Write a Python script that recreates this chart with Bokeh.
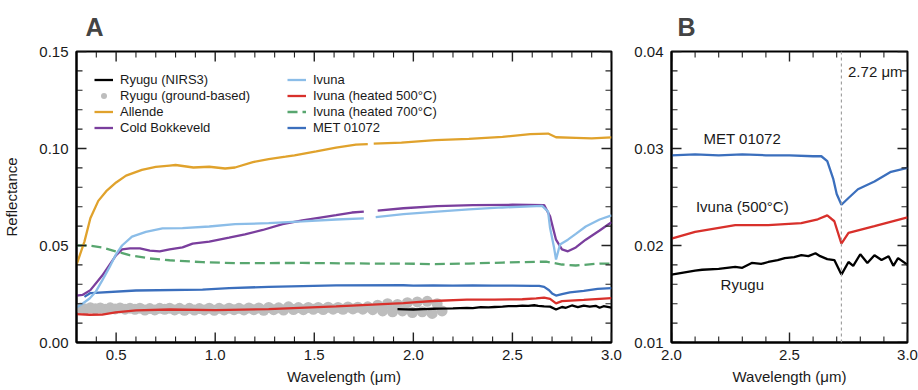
import math
from bokeh.plotting import figure
from bokeh.models import (Range1d, Legend, LegendItem, Span, NumeralTickFormatter, FixedTicker,
                          ColumnDataSource)
from bokeh.layouts import row
from bokeh.embed import file_html
from bokeh.resources import INLINE
from bokeh.core.properties import value

nan = float("nan")

# ---------------- data ----------------
ryugu_w = [1.92, 1.96, 2.00, 2.05, 2.10, 2.13, 2.20, 2.27, 2.30, 2.34, 2.38, 2.41, 2.45, 2.48,
           2.52, 2.55, 2.58, 2.61, 2.63, 2.66, 2.69, 2.72, 2.75, 2.77, 2.80, 2.83, 2.86, 2.89,
           2.92, 2.94, 2.96, 3.00]
ryugu_r = [0.0172, 0.0171, 0.0170, 0.0172, 0.0174, 0.0175, 0.0176, 0.0178, 0.0177, 0.0182,
           0.0181, 0.0183, 0.0185, 0.0187, 0.0188, 0.0190, 0.0189, 0.0192, 0.0189, 0.0186,
           0.0185, 0.0170, 0.0183, 0.0179, 0.0191, 0.0182, 0.0190, 0.0185, 0.0189, 0.0179,
           0.0187, 0.0180]

ground_w = [0.32, 0.345, 0.37, 0.395, 0.42, 0.445, 0.47, 0.495, 0.52, 0.545, 0.57, 0.595,
            0.62, 0.645, 0.67, 0.695, 0.72, 0.745, 0.77, 0.795, 0.82, 0.845, 0.87, 0.895,
            0.92, 0.945, 0.97, 0.995, 1.02, 1.045, 1.07, 1.095, 1.12, 1.145, 1.17, 1.195,
            1.22, 1.245, 1.27, 1.295, 1.32, 1.345, 1.37, 1.395, 1.42, 1.445, 1.47, 1.495,
            1.52, 1.545, 1.57, 1.595, 1.62, 1.645, 1.67, 1.695, 1.72, 1.745, 1.77, 1.795,
            1.82, 1.845, 1.87, 1.895, 1.92, 1.945, 1.97, 1.995, 2.02, 2.045, 2.07, 2.095,
            2.12, 2.145]
ground_r = [0.0178, 0.0173, 0.0179, 0.0174, 0.0178, 0.0172, 0.0179, 0.0173, 0.0178, 0.0172,
            0.0177, 0.0171, 0.0177, 0.0167, 0.0175, 0.0168, 0.0176, 0.0171, 0.0177, 0.0168,
            0.0176, 0.0166, 0.0176, 0.0167, 0.0175, 0.0168, 0.0177, 0.0166, 0.0176, 0.0168,
            0.0177, 0.0169, 0.0176, 0.0168, 0.0178, 0.0169, 0.0178, 0.0166, 0.0181, 0.0169,
            0.0179, 0.0167, 0.0184, 0.0170, 0.0180, 0.0169, 0.0181, 0.0171, 0.0181, 0.0170,
            0.0182, 0.0172, 0.0181, 0.0171, 0.0183, 0.0173, 0.0182, 0.0172, 0.0184, 0.0169,
            0.0192, 0.0163, 0.0200, 0.0158, 0.0196, 0.0163, 0.0205, 0.0154, 0.0209, 0.0158,
            0.0212, 0.0150, 0.0200, 0.0163]

allende_w = [0.30, 0.34, 0.37, 0.41, 0.45, 0.50, 0.55, 0.63, 0.70, 0.77, 0.80, 0.89, 0.97,
             1.05, 1.10, 1.19, 1.27, 1.355, 1.40, 1.51, 1.61, 1.71, 1.77, 1.785, 1.80, 1.94,
             2.11, 2.28, 2.45, 2.59, 2.68, 2.72, 2.82, 2.90, 3.00]
allende_r = [0.040, 0.052, 0.064, 0.073, 0.078, 0.0825, 0.086, 0.089, 0.0905, 0.0912, 0.0915,
             0.0902, 0.0906, 0.0897, 0.0902, 0.093, 0.0945, 0.0958, 0.0965, 0.0985, 0.1005,
             0.102, 0.1023, nan, 0.1025, 0.103, 0.1043, 0.105, 0.106, 0.1074, 0.1077, 0.1058,
             0.1055, 0.1052, 0.1057]

cb_w = [0.30, 0.33, 0.37, 0.43, 0.50, 0.53, 0.57, 0.62, 0.67, 0.72, 0.77, 0.835, 0.886, 0.97,
        1.07, 1.15, 1.24, 1.34, 1.44, 1.53, 1.61, 1.69, 1.75, 1.785, 1.82, 1.95, 2.12, 2.30,
        2.50, 2.66, 2.69, 2.72, 2.75, 2.78, 2.82, 2.87, 2.94, 3.00]
cb_r = [0.0242, 0.0245, 0.027, 0.0345, 0.045, 0.048, 0.0485, 0.0485, 0.0474, 0.047, 0.048,
        0.049, 0.051, 0.052, 0.054, 0.0557, 0.058, 0.061, 0.063, 0.0644, 0.0656, 0.067, 0.0675,
        nan, 0.068, 0.0692, 0.0703, 0.0708, 0.071, 0.0708, 0.065, 0.053, 0.048, 0.047, 0.049,
        0.053, 0.0577, 0.062]

ivuna_w = [0.30, 0.33, 0.366, 0.396, 0.43, 0.466, 0.497, 0.53, 0.58, 0.65, 0.734, 0.835, 0.97,
           1.10, 1.27, 1.44, 1.61, 1.75, 1.78, 1.81, 1.95, 2.12, 2.28, 2.45, 2.65, 2.68, 2.69,
           2.71, 2.72, 2.74, 2.78, 2.82, 2.87, 2.94, 3.00]
ivuna_r = [0.018, 0.020, 0.0227, 0.026, 0.032, 0.0387, 0.045, 0.050, 0.0546, 0.057, 0.0588,
           0.059, 0.0598, 0.061, 0.0615, 0.0624, 0.0634, 0.064, nan, 0.0646, 0.0662, 0.0675,
           0.0686, 0.0696, 0.0704, 0.0675, 0.059, 0.049, 0.0428, 0.0505, 0.053, 0.056, 0.0598,
           0.0634, 0.0655]

iv500_w = [0.30, 0.366, 0.43, 0.497, 0.60, 0.77, 1.00, 1.27, 1.61, 1.95, 2.00, 2.10, 2.27, 2.41,
           2.55, 2.62, 2.66, 2.69, 2.72, 2.75, 2.86, 3.00]
iv500_r = [0.0146, 0.0143, 0.0144, 0.0155, 0.0166, 0.0170, 0.0167, 0.0172, 0.0186, 0.0203,
           0.0207, 0.0214, 0.0221, 0.0221, 0.0223, 0.0227, 0.0231, 0.0225, 0.0202, 0.0213,
           0.0220, 0.0229]

iv700_w = [0.30, 0.366, 0.43, 0.497, 0.568, 0.67, 0.77, 0.936, 1.10, 1.44, 1.78, 1.95, 2.11,
           2.28, 2.45, 2.67, 2.75, 2.82, 2.94, 3.00]
iv700_r = [0.050, 0.050, 0.049, 0.047, 0.045, 0.0433, 0.0424, 0.0414, 0.0409, 0.041, 0.0407,
           0.0407, 0.0404, 0.0407, 0.0412, 0.0417, 0.0402, 0.0397, 0.0407, 0.0407]

met_w = [0.34, 0.37, 0.60, 0.936, 1.07, 1.27, 1.61, 1.95, 2.00, 2.10, 2.20, 2.30, 2.40, 2.50,
         2.60, 2.635, 2.66, 2.685, 2.70, 2.72, 2.75, 2.79, 2.86, 2.93, 3.00]
met_r = [0.0235, 0.0255, 0.0268, 0.0273, 0.028, 0.0287, 0.0294, 0.0295, 0.0293, 0.0294,
         0.0293, 0.0294, 0.0293, 0.0293, 0.0292, 0.0292, 0.0287, 0.0269, 0.0253, 0.0242,
         0.0249, 0.0258, 0.0266, 0.0276, 0.0280]

panel_b_labels = ["MET 01072", "Ivuna (500°C)", "Ryugu"]
panel_b_label_x = [2.30, 2.30, 2.30]
panel_b_label_y = [0.0310, 0.0240, 0.0160]
band_center = 2.72

# tick positions
a_x_major = [0.5, 1.0, 1.5, 2.0, 2.5, 3.0]
a_x_minor = [0.4, 0.6, 0.7, 0.8, 0.9, 1.1, 1.2, 1.3, 1.4, 1.6, 1.7, 1.8, 1.9,
             2.1, 2.2, 2.3, 2.4, 2.6, 2.7, 2.8, 2.9]
a_y_major = [0.0, 0.05, 0.10, 0.15]
a_y_minor = [0.01, 0.02, 0.03, 0.04, 0.06, 0.07, 0.08, 0.09, 0.11, 0.12, 0.13, 0.14]
b_x_major = [2.0, 2.5, 3.0]
b_x_minor = [2.1, 2.2, 2.3, 2.4, 2.6, 2.7, 2.8, 2.9]
b_y_major = [0.01, 0.02, 0.03, 0.04]
b_y_minor = [0.012, 0.014, 0.016, 0.018, 0.022, 0.024, 0.026, 0.028,
             0.032, 0.034, 0.036, 0.038]

# ---------------- style ----------------
FONT = "Liberation Sans"
TXT = "#1a1a1a"
C_RYUGU = "#000000"
C_GROUND = "#bdbdbd"
C_ALLENDE = "#e0a22c"
C_CB = "#7a3e9d"
C_IVUNA = "#8bbde8"
C_IV500 = "#d8302b"
C_IV700 = "#58a66f"
C_MET = "#3b6fbd"
LW = 2.3
FH = 291
MAJ, MIN = 10, 6
TICK_C = "#222222"


def style_axis(ax, ticks):
    ax.ticker = FixedTicker(ticks=ticks)
    ax.axis_line_width = 2
    ax.axis_line_color = "black"
    ax.major_tick_in = 0
    ax.major_tick_out = 0
    ax.minor_tick_in = 0
    ax.minor_tick_out = 0
    ax.major_label_text_font = FONT
    ax.major_label_text_color = TXT
    ax.major_label_text_font_size = "15px"
    ax.major_label_standoff = 8
    ax.axis_label_text_font = FONT
    ax.axis_label_text_font_style = "normal"
    ax.axis_label_text_font_size = "15px"
    ax.axis_label_text_color = TXT


def draw_ticks(p, fw, xr, yr, xmaj, xmin, ymaj, ymin):
    dx = (xr[1] - xr[0]) / fw
    dy = (yr[1] - yr[0]) / FH
    x0, y0, x1, y1, w = [], [], [], [], []
    for vals, ln, lw in ((xmaj, MAJ, 1.4), (xmin, MIN, 1.1)):
        for v in vals:
            x0 += [v, v]
            x1 += [v, v]
            y0 += [yr[0], yr[1]]
            y1 += [yr[0] + ln * dy, yr[1] - ln * dy]
            w += [lw, lw]
    for vals, ln, lw in ((ymaj, MAJ, 1.4), (ymin, MIN, 1.1)):
        for v in vals:
            y0 += [v, v]
            y1 += [v, v]
            x0 += [xr[0], xr[1]]
            x1 += [xr[0] + ln * dx, xr[1] - ln * dx]
            w += [lw, lw]
    src = ColumnDataSource(dict(x0=x0, y0=y0, x1=x1, y1=y1, w=w))
    p.segment(x0="x0", y0="y0", x1="x1", y1="y1", line_width="w", line_color=TICK_C,
              source=src)


def make_fig(fw, xr, yr, xmaj, ymaj, yfmt, left, right, title, toff):
    p = figure(frame_width=fw, frame_height=FH, x_range=Range1d(*xr), y_range=Range1d(*yr),
               output_backend="svg", toolbar_location=None,
               min_border_left=left, min_border_right=right,
               min_border_top=50, min_border_bottom=49,
               x_axis_label="Wavelength (μm)")
    p.grid.visible = False
    p.outline_line_color = "black"
    p.outline_line_width = 2
    p.background_fill_color = "white"
    p.border_fill_color = "white"
    p.title.text = title
    p.title.text_font = "'Liberation Sans Narrow', 'Liberation Sans'"
    p.title.text_font_size = "25px"
    p.title.text_font_style = "bold"
    p.title.align = "left"
    p.title.offset = toff
    p.title.standoff = 21
    style_axis(p.xaxis[0], xmaj)
    style_axis(p.yaxis[0], ymaj)
    p.xaxis[0].formatter = NumeralTickFormatter(format="0.0")
    p.yaxis[0].formatter = NumeralTickFormatter(format=yfmt)
    p.xaxis[0].major_label_standoff = 7
    p.xaxis[0].axis_label_standoff = 5
    p.yaxis[0].major_label_standoff = 8
    return p


# ---------------- panel A ----------------
A_XR, A_YR = (0.3, 3.0), (0.0, 0.15)
pA = make_fig(535, A_XR, A_YR, a_x_major, a_y_major, "0.00", 74, 11, "A", 9)
pA.yaxis[0].axis_label = "Reflectance"
pA.yaxis[0].axis_label_standoff = 16

r_ground = pA.scatter(ground_w, ground_r, size=11, color=C_GROUND, line_color=None)
r_iv700 = pA.line(iv700_w, iv700_r, line_width=LW, color=C_IV700, line_dash="10 5")
r_met = pA.line(met_w, met_r, line_width=LW, color=C_MET)
r_iv500 = pA.line(iv500_w, iv500_r, line_width=LW, color=C_IV500)
r_ryugu = pA.line(ryugu_w, ryugu_r, line_width=LW, color=C_RYUGU)
r_allende = pA.line(allende_w, allende_r, line_width=LW, color=C_ALLENDE)
r_cb = pA.line(cb_w, cb_r, line_width=LW, color=C_CB)
r_ivuna = pA.line(ivuna_w, ivuna_r, line_width=LW, color=C_IVUNA)
draw_ticks(pA, 535, A_XR, A_YR, a_x_major, a_x_minor, a_y_major, a_y_minor)


def make_legend(items, x):
    return Legend(items=items, location=(x, FH - 21 - 63), orientation="vertical",
                  padding=0, margin=0, spacing=1, glyph_width=19, glyph_height=15,
                  label_height=15, label_standoff=7, label_text_font=FONT,
                  label_text_font_size="13px", label_text_color=TXT,
                  border_line_alpha=0, background_fill_alpha=0)


leg1 = make_legend([
    LegendItem(label="Ryugu (NIRS3)", renderers=[r_ryugu]),
    LegendItem(label="Ryugu (ground-based)", renderers=[r_ground]),
    LegendItem(label="Allende", renderers=[r_allende]),
    LegendItem(label="Cold Bokkeveld", renderers=[r_cb]),
], 18)
leg2 = make_legend([
    LegendItem(label="Ivuna", renderers=[r_ivuna]),
    LegendItem(label="Ivuna (heated 500°C)", renderers=[r_iv500]),
    LegendItem(label="Ivuna (heated 700°C)", renderers=[r_iv700]),
    LegendItem(label="MET 01072", renderers=[r_met]),
], 211)
pA.add_layout(leg1)
pA.add_layout(leg2)

# ---------------- panel B ----------------
B_XR, B_YR = (2.0, 3.0), (0.01, 0.04)
B_FW = 236
pB = make_fig(B_FW, B_XR, B_YR, b_x_major, b_y_major, "0.00", 49, 13, "B", 6)
pB.add_layout(Span(location=band_center, dimension="height", line_color="#a0a0a0",
                   line_dash="3 3", line_width=1.2))
pB.line(met_w, met_r, line_width=LW, color=C_MET)
pB.line(iv500_w, iv500_r, line_width=LW, color=C_IV500)
pB.line(ryugu_w, ryugu_r, line_width=LW, color=C_RYUGU)
pB.text(x=panel_b_label_x, y=panel_b_label_y, text=panel_b_labels, text_align="center",
        text_baseline="middle", text_font=value(FONT), text_font_size="15px",
        text_color=TXT)
pB.text(x=[2.748], y=[0.0379], text=["2.72 μm"], text_align="left", text_baseline="middle",
        text_font=value(FONT), text_font_size="15px", text_color=TXT)
draw_ticks(pB, B_FW, B_XR, B_YR, b_x_major, b_x_minor, b_y_major, b_y_minor)

layout = row(pA, pB)
open("out.html", "w").write(file_html(layout, INLINE))
